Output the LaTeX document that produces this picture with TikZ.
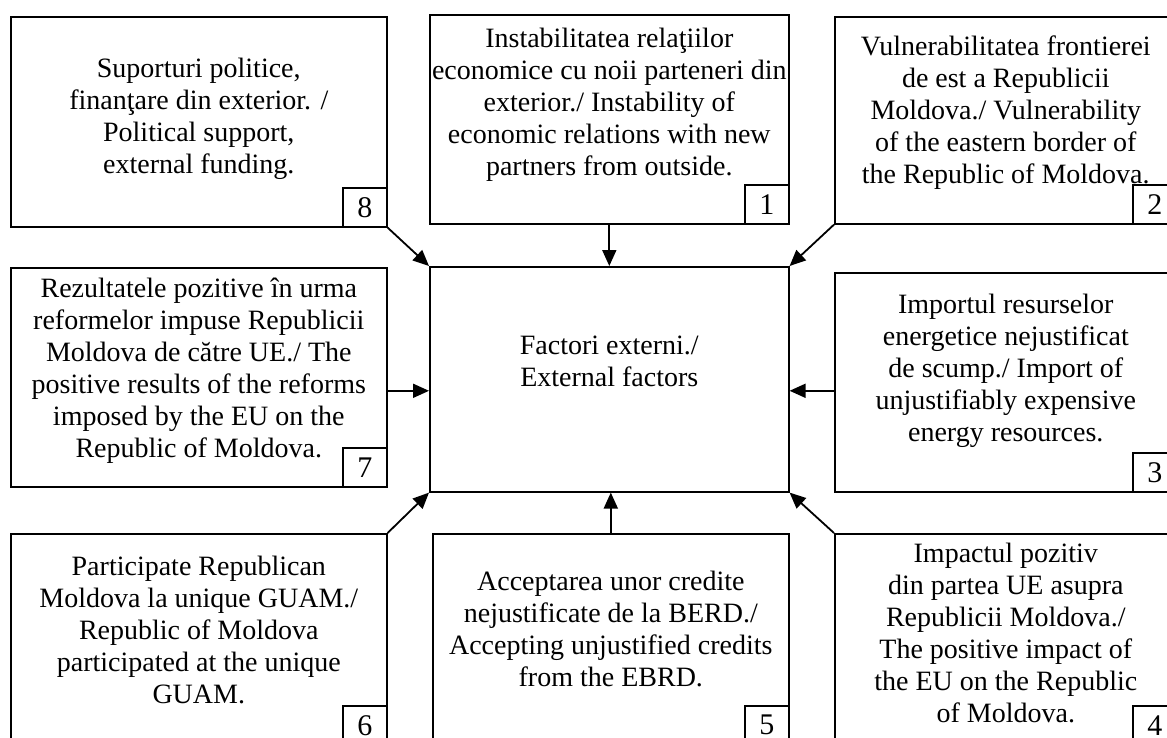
\documentclass[tikz,border=0pt]{standalone}
\usepackage{fontspec}
\setmainfont{Liberation Serif}
\usepackage{tikz}
\usetikzlibrary{positioning}
\usetikzlibrary{arrows.meta}

\begin{document}
\begin{tikzpicture}[x=1pt, y=-1pt,
        factor/.style={rectangle, draw=black, line width=1.6pt, anchor=north west, inner sep=0pt},
        ftext/.style={align=center, inner sep=0pt, font=\fontsize{28}{32}\selectfont},
        numbox/.style={rectangle, draw=black, line width=1.6pt, fill=white, minimum width=44pt, minimum height=39pt, inner sep=0pt, anchor=south east, font=\fontsize{30}{32}\selectfont},
        link/.style={->, line width=1.8pt},
        >={Triangle[length=16pt, width=14pt]}
      ]
        \useasboundingbox (0,0) rectangle (1167,738);
        \clip (0,0) rectangle (1167,738);

        \node[factor, minimum width=376pt, minimum height=210pt]  (b8)   at (10,16)   {};
        \node[factor, minimum width=359pt, minimum height=209pt]  (b1)   at (429,14)  {};
        \node[factor, minimum width=342pt, minimum height=207pt]  (b2)   at (834,16)  {};
        \node[factor, minimum width=376pt, minimum height=219pt]  (b7)   at (10,267)  {};
        \node[factor, minimum width=359pt, minimum height=225pt]  (ext)  at (429,266) {};
        \node[factor, minimum width=342pt, minimum height=219pt]  (b3)   at (834,272) {};
        \node[factor, minimum width=376pt, minimum height=211pt]  (b6)   at (10,533)  {};
        \node[factor, minimum width=356pt, minimum height=211pt]  (b5)   at (432,533) {};
        \node[factor, minimum width=342pt, minimum height=211pt]  (b4)   at (834,533) {};

        \node[ftext]  (t8)   [below=42pt of b8.north]   {Suporturi politice,\\ finanţare din exterior. /\\ Political support,\\ external funding.};
        \node[ftext]  (t1)   [below=14pt of b1.north]   {Instabilitatea relaţiilor\\ economice cu noii parteneri din\\ exterior./ Instability of\\ economic relations with new\\ partners from outside.};
        \node[ftext]  (t2)   [below=20pt of b2.north]   {Vulnerabilitatea frontierei\\ de est a Republicii\\ Moldova./ Vulnerability\\ of the eastern border of\\ the Republic of Moldova.};
        \node[ftext]  (t7)   [below=11pt of b7.north]   {Rezultatele pozitive în urma\\ reformelor impuse Republicii\\ Moldova de către UE./ The\\ positive results of the reforms\\ imposed by the EU on the\\ Republic of Moldova.};
        \node[ftext]  (text) [below=70pt of ext.north]  {Factori externi./\\ External factors};
        \node[ftext]  (t3)   [below=22pt of b3.north]   {Importul resurselor\\ energetice nejustificat\\ de scump./ Import of\\ unjustifiably expensive\\ energy resources.};
        \node[ftext]  (t6)   [below=23pt of b6.north]   {Participate Republican\\ Moldova la unique GUAM./\\ Republic of Moldova\\ participated at the unique\\ GUAM.};
        \node[ftext]  (t5)   [below=38pt of b5.north]   {Acceptarea unor credite\\ nejustificate de la BERD./\\ Accepting unjustified credits\\ from the EBRD.};
        \node[ftext]  (t4)   [below=10pt of b4.north]   {Impactul pozitiv\\ din partea UE asupra\\ Republicii Moldova./\\ The positive impact of\\ the EU on the Republic\\ of Moldova.};

        \node[numbox] (n8) at (b8.south east) {8};
        \node[numbox] (n1) at (b1.south east) {1};
        \node[numbox] (n2) at (b2.south east) {2};
        \node[numbox] (n7) at (b7.south east) {7};
        \node[numbox] (n3) at (b3.south east) {3};
        \node[numbox] (n6) at (b6.south east) {6};
        \node[numbox] (n5) at (b5.south east) {5};
        \node[numbox] (n4) at (b4.south east) {4};

        \coordinate (a7) at ([yshift=-13.5pt]b7.east);
        \coordinate (a3) at ([yshift=-8.5pt]b3.west);

        \draw[link] (b8.south east) -- (ext.north west);
        \draw[link] (b1.south) -- (ext.north);
        \draw[link] (b2.south west) -- (ext.north east);
        \draw[link] (a7) -- (a7 -| ext.west);
        \draw[link] (a3) -- (a3 -| ext.east);
        \draw[link] (b6.north east) -- (ext.south west);
        \draw[link] (b5.north) -- (b5.north |- ext.south);
        \draw[link] (b4.north west) -- (ext.south east);
      \end{tikzpicture}
\end{document}
